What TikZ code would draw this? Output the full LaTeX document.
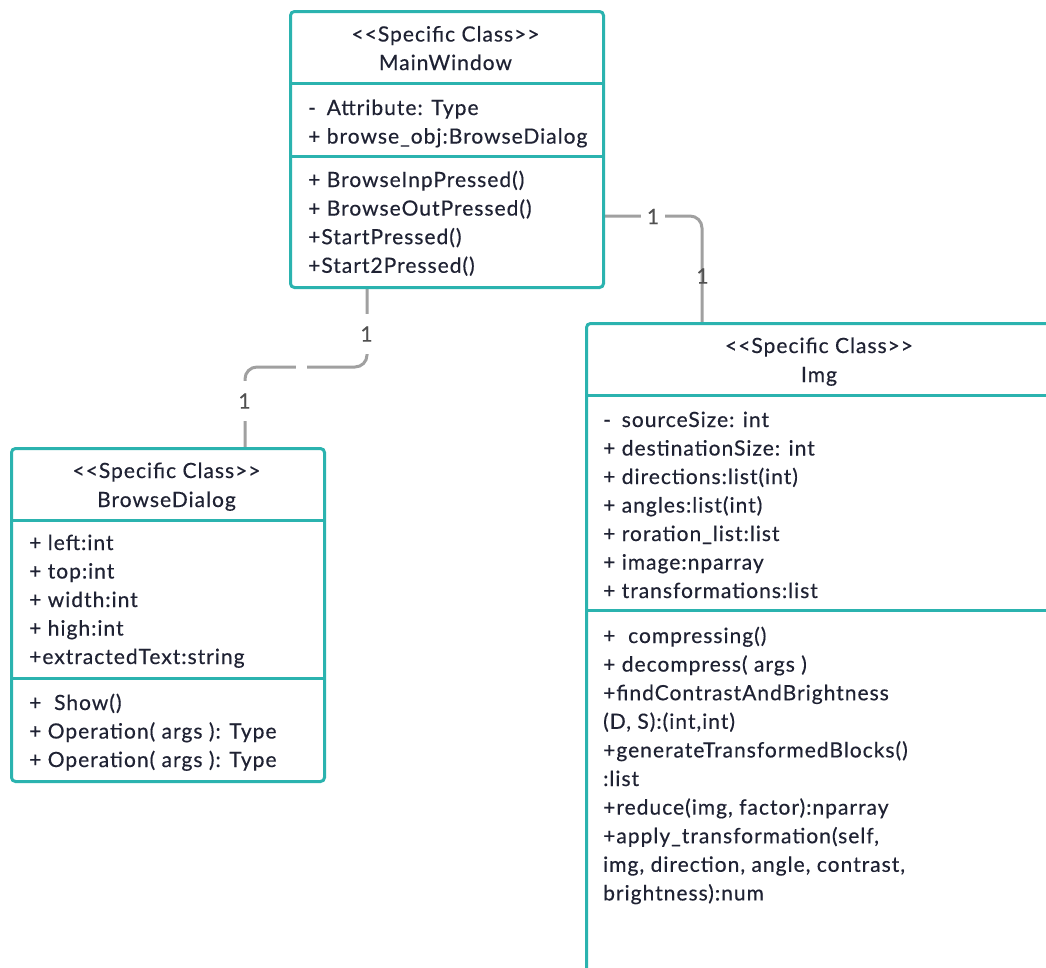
\documentclass[tikz,border=0pt]{standalone}
\usepackage{fontspec}
\setmainfont{Lato}[LetterSpace=4.8,FakeBold=0.4]
\usetikzlibrary{calc}
\definecolor{tealline}{HTML}{2BB3AF}
\definecolor{connline}{HTML}{A0A0A0}
\definecolor{ink}{HTML}{1F2233}
\definecolor{lblink}{HTML}{505050}
\newcommand{\uminus}{\rlap{-}\hphantom{+ }}
\tikzset{
  classbox/.style={draw=tealline, line width=3pt, rounded corners=4pt, fill=white, inner sep=0pt, anchor=north west},
  divider/.style={draw=tealline, line width=3pt},
  txt/.style={inner sep=0pt, anchor=base west, text=ink, font=\fontsize{21}{24}\selectfont},
  ttl/.style={inner sep=0pt, anchor=base, text=ink, font=\fontsize{21}{24}\selectfont},
  assoc/.style={draw=connline, line width=3pt, rounded corners=12pt},
  mult/.style={fill=white, inner xsep=5.5pt, inner ysep=12pt, text=lblink, font=\fontsize{21}{24}\selectfont},
  multover/.style={inner sep=0pt, text=lblink, font=\fontsize{21}{24}\selectfont},
}
\begin{document}
\begin{tikzpicture}[x=1pt,y=-1pt]
\clip (0,0) rectangle (1046,967);
\fill[white] (0,0) rectangle (1046,967);

% connector end points (box borders)
\coordinate (mwB) at (367,286);
\coordinate (bdT) at (245,447);
\coordinate (mid1) at (300,367);
\coordinate (mwR) at (602,216);
\coordinate (imgT) at (702,322);

% connectors (drawn first, boxes on top)
\draw[assoc] (mwB) -- (mwB |- mid1) -- (bdT |- mid1) -- (bdT);
\draw[assoc] (mwR) -| (imgT);

% class boxes
\node[classbox, minimum width=313pt, minimum height=276pt] (mw) at (289,10) {};
\node[classbox, minimum width=313pt, minimum height=333pt] (bd) at (10,447) {};
\node[classbox, minimum width=468pt, minimum height=700pt] (img) at (585,322) {};

% dividers
\draw[divider] (289,83) -- (602,83);
\draw[divider] (289,156) -- (602,156);
\draw[divider] (10,520) -- (323,520);
\draw[divider] (10,678) -- (323,678);
\draw[divider] (585,395) -- (1053,395);
\draw[divider] (585,610) -- (1053,610);

% MainWindow
\node[ttl] (mwt1) at (445.5,41.5) {{<}{<}Specific Class{>}{>}};
\node[ttl] (mwt2) at (445.5,70) {MainWindow};
\foreach \t [count=\i from 0] in {{\uminus Attribute: Type},{+ browse\_obj:BrowseDialog}}
  \node[txt] (mwa\i) at (308,115+28.6*\i) {\t};
\foreach \t [count=\i from 0] in {{+ BrowseInpPressed()},{+ BrowseOutPressed()},{+StartPressed()},{+Start2Pressed()}}
  \node[txt] (mwm\i) at (308,187+28.6*\i) {\t};

% BrowseDialog
\node[ttl] (bdt1) at (166.5,478) {{<}{<}Specific Class{>}{>}};
\node[ttl] (bdt2) at (166.5,507) {BrowseDialog};
\foreach \t [count=\i from 0] in {{+ left:int},{+ top:int},{+ width:int},{+ high:int},{+extractedText:string}}
  \node[txt] (bda\i) at (29,550+28.5*\i) {\t};
\foreach \t [count=\i from 0] in {{+\ \ Show()},{+ Operation( args ): Type},{+ Operation( args ): Type}}
  \node[txt] (bdm\i) at (29,710+28.5*\i) {\t};

% Img
\node[ttl] (imt1) at (819,353) {{<}{<}Specific Class{>}{>}};
\node[ttl] (imt2) at (819,382) {Img};
\foreach \t [count=\i from 0] in {{\uminus sourceSize: int},{+ destinationSize: int},{+ directions:list(int)},{+ angles:list(int)},{+ roration\_list:list},{+ image:nparray},{+ transformations:list}}
  \node[txt] (ima\i) at (603,427+28.5*\i) {\t};
\foreach \t [count=\i from 0] in {{+\ \ compressing()},{+ decompress( args )},{+findContrastAndBrightness},{(D, S):(int,int)},{+generateTransformedBlocks()},{:list},{+reduce(img, factor):nparray},{+apply\_transformation(self,},{img, direction, angle, contrast,},{brightness):num}}
  \node[txt] (imm\i) at (603,643+28.6*\i) {\t};

% multiplicities
\node[mult] (m1) at (366.5,334) {1};
\node[mult] (m2) at (244.5,401) {1};
\node[fill=white, inner sep=0pt, minimum width=11pt, minimum height=8pt] (gap1) at (301.5,367) {};
\node[mult] (m3) at (653,216.5) {1};
\node[multover] (m4) at (702.5,276) {1};
\end{tikzpicture}
\end{document}
